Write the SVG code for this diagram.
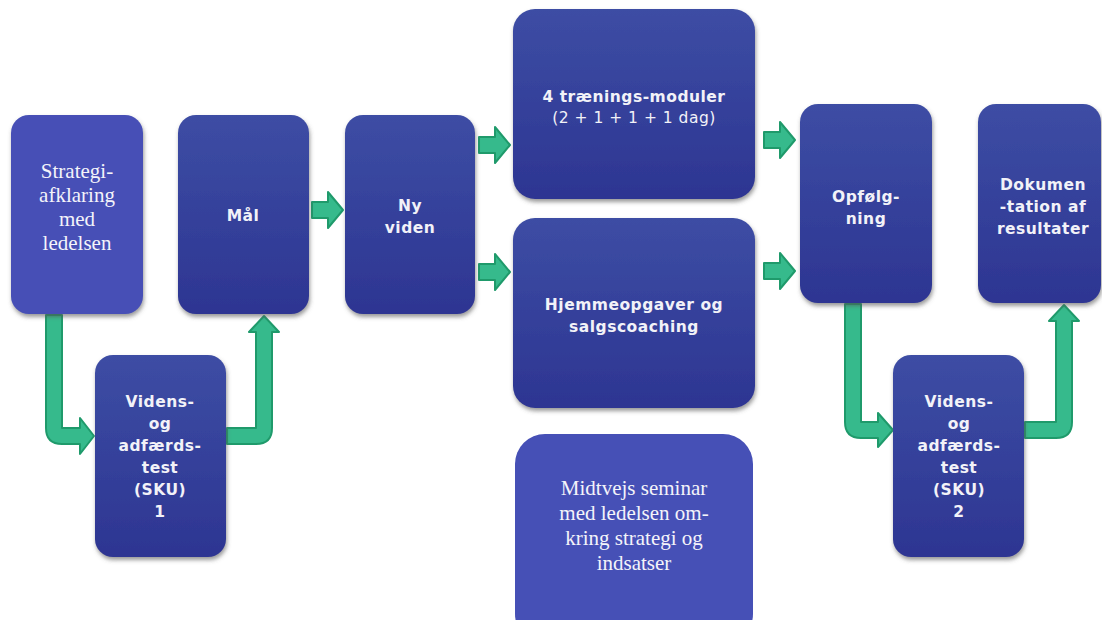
<svg xmlns="http://www.w3.org/2000/svg" width="1102" height="620" viewBox="0 0 1102 620">
<defs>
<linearGradient id="bg" x1="0" y1="0" x2="0" y2="1">
<stop offset="0" stop-color="#3d4da4"/>
<stop offset="1" stop-color="#2d3592"/>
</linearGradient>
<filter id="sh" x="-10%" y="-10%" width="125%" height="125%">
<feDropShadow dx="1" dy="3" stdDeviation="2" flood-color="#555" flood-opacity="0.6"/>
</filter>
</defs>
<style>
.box{fill:url(#bg);filter:url(#sh)}
.lite{fill:#4650b6}
.b{font-family:"DejaVu Sans",Verdana,sans-serif;font-weight:bold;font-size:15.5px;letter-spacing:0.5px;fill:#f2f2f8;text-anchor:middle}
.n{font-family:"DejaVu Sans",Verdana,sans-serif;font-size:15.5px;letter-spacing:0.5px;fill:#f2f2f8;text-anchor:middle}
.s{font-family:"Liberation Serif","Times New Roman",serif;font-size:21px;fill:#f4f4fa;text-anchor:middle}
.ar{fill:#36ba8c;stroke:#1f9a6b;stroke-width:2;stroke-linejoin:round}
</style>
<rect width="1102" height="620" fill="#ffffff"/>
<g id="connectors">
<path class="ar" d="M312 202 H328 V192 L343 210 L328 228 V218 H312 Z"/>
<path class="ar" d="M479 137 H495 V127 L510 145 L495 163 V153 H479 Z"/>
<path class="ar" d="M479 264 H495 V254 L510 272 L495 290 V280 H479 Z"/>
<path class="ar" d="M764 132 H780 V122 L795 140 L780 158 V148 H764 Z"/>
<path class="ar" d="M764 263 H780 V253 L795 271 L780 289 V279 H764 Z"/>
<path class="ar" d="M46 315 V428 Q46 444 62 444 H80 V454 L94 436 L80 418 V428 H62 V315 Z"/>
<path class="ar" d="M227 444 H256 Q272 444 272 428 V332 H279 L264 316 L249 332 H256 V428 H227 Z"/>
<path class="ar" d="M845 304 V422 Q845 438 861 438 H878 V447 L893 430 L878 413 V422 H861 V304 Z"/>
<path class="ar" d="M1025 438 H1056 Q1072 438 1072 422 V321 H1079 L1064 305 L1049 321 H1056 V422 H1025 Z"/>
</g>
<g id="strategi">
<rect x="11" y="115" width="132" height="199" rx="18" class="lite" filter="url(#sh)"/>
<text class="s" x="77" y="178">Strategi-</text>
<text class="s" x="77" y="202">afklaring</text>
<text class="s" x="77" y="226">med</text>
<text class="s" x="77" y="250">ledelsen</text>
</g>
<g id="maal">
<rect x="178" y="115" width="131" height="199" rx="18" class="box"/>
<text class="b" x="243" y="221">Mål</text>
</g>
<g id="nyviden">
<rect x="345" y="115" width="130" height="199" rx="18" class="box"/>
<text class="b" x="410" y="211">Ny</text>
<text class="b" x="410" y="233">viden</text>
</g>
<g id="moduler">
<rect x="513" y="9" width="242" height="190" rx="22" class="box"/>
<text class="b" x="634" y="102">4 trænings-moduler</text>
<text class="n" x="634" y="123">(2 + 1 + 1 + 1 dag)</text>
</g>
<g id="hjemme">
<rect x="513" y="218" width="242" height="190" rx="22" class="box"/>
<text class="b" x="634" y="310">Hjemmeopgaver og</text>
<text class="b" x="634" y="332">salgscoaching</text>
</g>
<g id="midtvejs">
<rect x="515" y="434" width="238" height="210" rx="30" class="lite"/>
<text class="s" x="634" y="495">Midtvejs seminar</text>
<text class="s" x="634" y="520">med ledelsen om-</text>
<text class="s" x="634" y="545">kring strategi og</text>
<text class="s" x="634" y="570">indsatser</text>
</g>
<g id="videns1">
<rect x="95" y="355" width="131" height="202" rx="18" class="box"/>
<text class="b" x="160" y="407">Videns-</text>
<text class="b" x="160" y="429">og</text>
<text class="b" x="160" y="451">adfærds-</text>
<text class="b" x="160" y="473">test</text>
<text class="b" x="160" y="495">(SKU)</text>
<text class="b" x="160" y="517">1</text>
</g>
<g id="opfoelgning">
<rect x="800" y="104" width="132" height="199" rx="18" class="box"/>
<text class="b" x="866" y="202">Opfølg-</text>
<text class="b" x="866" y="224">ning</text>
</g>
<g id="dokumentation">
<rect x="978" y="104" width="123" height="199" rx="18" class="box"/>
<text class="b" x="1043" y="190">Dokumen</text>
<text class="b" x="1043" y="212">-tation af</text>
<text class="b" x="1043" y="234">resultater</text>
</g>
<g id="videns2">
<rect x="893" y="355" width="131" height="202" rx="18" class="box"/>
<text class="b" x="959" y="407">Videns-</text>
<text class="b" x="959" y="429">og</text>
<text class="b" x="959" y="451">adfærds-</text>
<text class="b" x="959" y="473">test</text>
<text class="b" x="959" y="495">(SKU)</text>
<text class="b" x="959" y="517">2</text>
</g>
</svg>
